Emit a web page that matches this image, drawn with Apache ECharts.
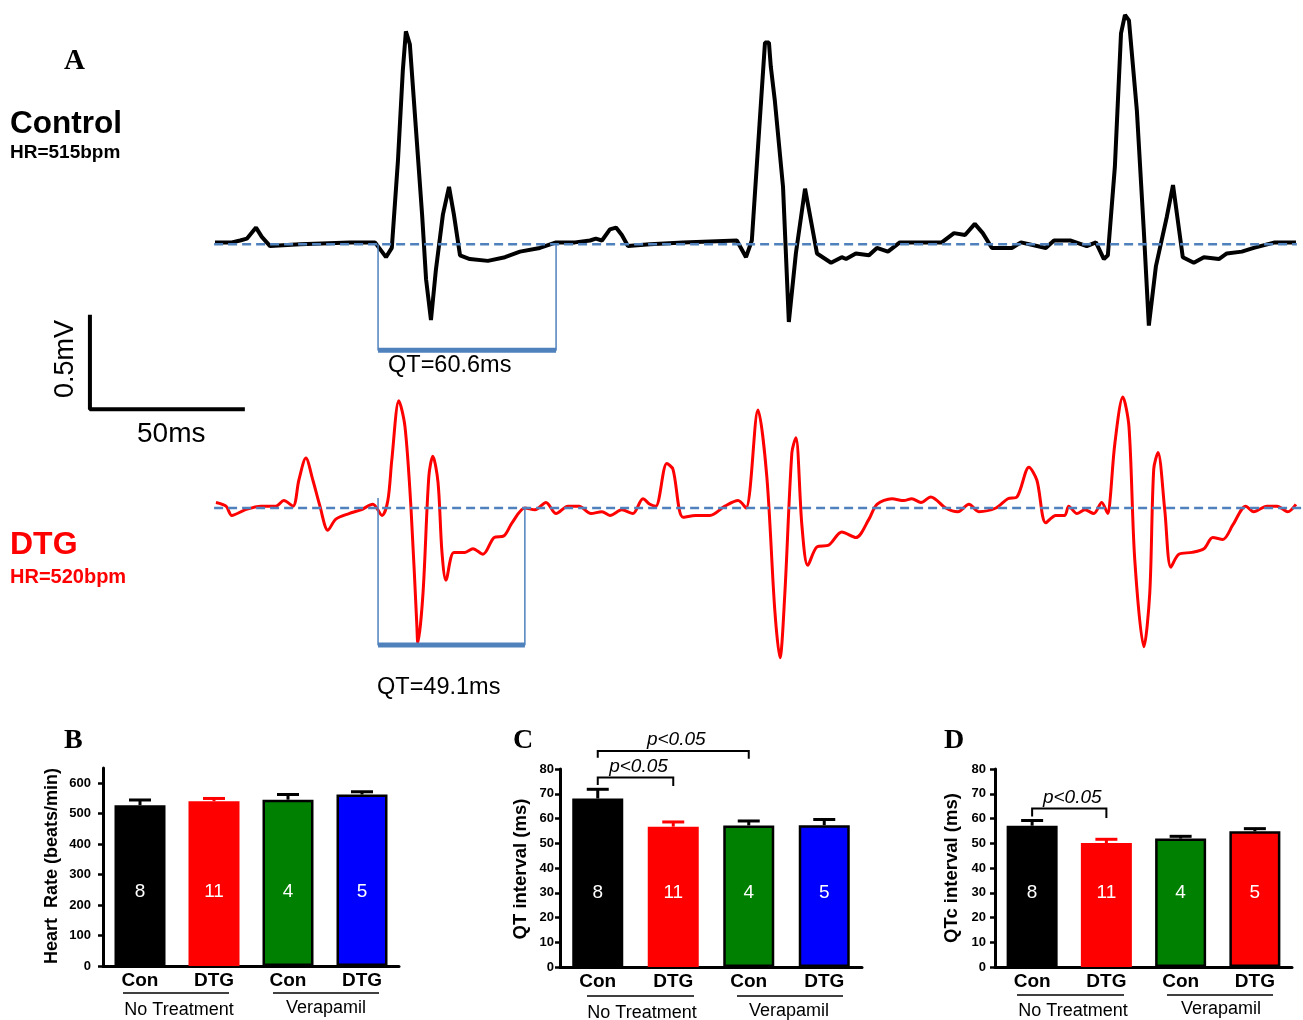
<!DOCTYPE html>
<html>
<head>
<meta charset="utf-8">
<script src="https://cdn.jsdelivr.net/npm/echarts@6/dist/echarts.min.js"></script>
<style>
  html, body { margin: 0; padding: 0; background: #fff; }
  #chart { width: 1303px; height: 1020px; }
</style>
</head>
<body>
<div id="chart"></div>
<script>
// ECG traces: [time ms, amplitude mV]
const ecgControl = [[0.3,0.01],[5.8,0.01],[8.5,0.02],[10.7,0.03],[13.7,0.09],[15.6,0.04],[18.3,-0.01],[28.1,0],[44.4,0.01],[52.6,0.01],[56.2,-0.07],[58.1,-0.02],[60.1,0.45],[61.7,0.94],[62.7,1.15],[64.0,1.08],[66.0,0.62],[68.0,0.16],[69.3,-0.19],[70.9,-0.41],[72.5,-0.14],[74.8,0.16],[76.8,0.31],[78.4,0.16],[80.4,-0.06],[83.6,-0.08],[89.5,-0.09],[95.1,-0.07],[100.0,-0.04],[106.5,-0.02],[111.8,0.01],[118.0,0.01],[122.9,0.02],[124.8,0.03],[126.8,0.02],[129.4,0.08],[131.4,0.09],[133.3,0.05],[135.3,-0.01],[142.5,0],[153.3,0.01],[170.9,0.02],[173.9,-0.07],[175.8,0.02],[178.4,0.67],[180.1,1.09],[181.4,1.09],[182.0,0.96],[183.3,0.78],[186.0,0.31],[187.9,-0.42],[190.2,-0.05],[193.2,0.30],[197.1,-0.05],[201.7,-0.10],[205.2,-0.07],[206.6,-0.08],[209.8,-0.05],[214.1,-0.06],[216.7,-0.02],[220.3,-0.04],[224.2,0.01],[231.1,0.01],[237.9,0.01],[241.9,0.06],[245.5,0.05],[248.7,0.11],[251.3,0.06],[254.3,-0.02],[260.8,-0.02],[263.8,0.01],[271.9,-0.02],[274.6,0.02],[280.1,0.02],[285.3,-0.01],[288.3,0.01],[290.9,-0.08],[292.2,-0.06],[294.5,0.42],[296.5,1.14],[297.8,1.24],[299.1,1.21],[301.7,0.72],[304.0,0.06],[305.6,-0.44],[307.9,-0.12],[311.5,0.15],[313.5,0.32],[316.7,-0.07],[320.3,-0.10],[323.6,-0.07],[328.5,-0.08],[331.1,-0.05],[336.0,-0.04],[339.9,-0.02],[346.8,0.01],[353.7,0.01]];

const ecgDtg = [[0.6,0.03],[3.9,0.01],[5.8,-0.04],[10.1,-0.01],[15.3,0.01],[20.2,0.01],[22.8,0.04],[25.8,0.01],[27.7,0.15],[30.0,0.27],[32.3,0.15],[34.6,0.01],[37.2,-0.12],[39.8,-0.06],[44.1,-0.03],[48.0,-0.01],[51.9,0.02],[54.9,-0.04],[56.8,0.04],[58.1,0.26],[60.4,0.58],[62.4,0.44],[64.4,-0.01],[66.3,-0.64],[66.6,-0.73],[68.3,-0.46],[70.2,0.17],[71.5,0.28],[73.2,0.14],[74.5,-0.24],[75.8,-0.39],[78.4,-0.24],[82.0,-0.24],[84.6,-0.22],[87.9,-0.25],[91.5,-0.16],[94.8,-0.15],[97.4,-0.08],[101.6,0],[104.9,-0.01],[108.5,0.03],[111.8,-0.03],[115.7,0.01],[119.3,0.01],[123.2,-0.03],[126.8,-0.02],[129.4,-0.04],[133.3,-0.01],[136.9,-0.03],[140.2,0.05],[142.5,0.02],[144.4,0.01],[148.0,0.24],[150.0,0.21],[153.3,-0.05],[157.5,-0.04],[162.1,-0.04],[167.0,0.01],[171.3,0.04],[173.9,0],[177.8,0.53],[180.7,0.17],[183.3,-0.55],[185.0,-0.81],[186.6,-0.46],[188.9,0.30],[190.2,0.38],[192.2,-0.10],[194.1,-0.31],[197.1,-0.21],[201.0,-0.20],[205.2,-0.13],[209.8,-0.16],[214.1,-0.06],[216.7,0.02],[221.6,0.05],[225.5,0.04],[228.1,0.05],[231.1,0.03],[234.3,0.06],[239.2,0],[243.2,-0.02],[246.8,0.02],[250.0,-0.02],[255.6,0],[259.5,0.05],[262.5,0.06],[266.4,0.22],[269.0,0.15],[271.9,-0.08],[275.2,-0.04],[278.1,-0.04],[279.4,0.01],[282.1,-0.03],[284.7,-0.01],[287.6,-0.03],[290.2,0.03],[292.2,-0.03],[292.9,0.04],[294.5,0.35],[297.1,0.60],[299.1,0.44],[301.0,-0.28],[304.0,-0.75],[305.9,-0.46],[307.2,0.21],[308.6,0.30],[310.8,-0.01],[312.8,-0.32],[315.4,-0.25],[319.7,-0.24],[323.6,-0.22],[326.5,-0.16],[329.8,-0.17],[333.1,-0.09],[337.3,0.01],[339.9,-0.02],[344.2,0.01],[347.5,0.01],[351.0,-0.02],[353.7,0.02]];

// QT brackets: [start ms, end ms, top mV, bottom mV]
const qtControl = [53.6, 111.8, 0, -0.573];
const qtDtg = [53.6, 101.6, 0.054, -0.741];
const baselineControl = [0, 354];
const baselineDtg = [0, 356];
// scale bar: 50 ms, 0.5 mV
const scaleBar = [[-40.6, -0.392], [-40.6, -0.892], [9.4, -0.892]];

// bar panels
const categories = ['Con', 'DTG', 'Con', 'DTG'];
const groupNames = ['No Treatment', 'Verapamil'];
const nCounts = ['8', '11', '4', '5'];

const hrMean = [528, 541, 546, 563];
const hrSem = [17, 9, 17, 9];
const hrTicks = [0, 100, 200, 300, 400, 500, 600];

const qtMean = [68.1, 56.7, 57.2, 57.3];
const qtSem = [3.7, 1.9, 1.8, 2.3];
const qtcMean = [57.1, 50.1, 51.9, 54.8];
const qtcSem = [2.1, 1.5, 0.9, 1.1];
const msTicks = [0, 10, 20, 30, 40, 50, 60, 70, 80];

// significance brackets: [cat1, cat2, top, leftEnd, rightEnd]
const qtSig = [[0, 1, 76.6, 73.5, 73.1], [0, 2, 87.3, 84.5, 84.1]];
const qtcSig = [[0, 1, 64.0, 60.8, 60.2]];

const BLUE = '#4f81bd';
const FONT = '"Liberation Sans", Arial, sans-serif';
const SERIF = '"Liberation Serif", "Times New Roman", serif';

const chart = echarts.init(document.getElementById('chart'));

function ecgAxisX(grid) {
  return { type: 'value', gridIndex: grid, min: -70, max: 356, show: false };
}
function barAxisX(grid) {
  return {
    type: 'category', gridIndex: grid, data: categories,
    axisLine: { lineStyle: { color: '#000', width: 3 } },
    axisTick: { alignWithLabel: true, length: 7, lineStyle: { color: '#000', width: 2.5 } },
    axisLabel: { color: '#000', fontWeight: 'bold', fontSize: 19, fontFamily: FONT, margin: 5 }
  };
}
function barAxisY(grid, max, ticks, margin) {
  return {
    type: 'value', gridIndex: grid, min: 0, max: max, interval: ticks[1] - ticks[0],
    splitLine: { show: false },
    axisLine: { show: true, lineStyle: { color: '#000', width: 3 } },
    axisTick: { show: true, length: 5, customValues: ticks, lineStyle: { color: '#000', width: 2.5 } },
    axisLabel: {
      color: '#000', fontWeight: 'bold', fontSize: 13, fontFamily: FONT, margin: margin,
      customValues: ticks,
      formatter: function (v) { return v > ticks[ticks.length - 1] ? '' : v; }
    }
  };
}

function barSeries(idx, means, fills, borders) {
  return {
    type: 'bar', xAxisIndex: idx, yAxisIndex: idx, barWidth: 51,
    data: means.map(function (m, i) {
      return {
        value: m,
        itemStyle: { color: fills[i], borderColor: borders[i] ? '#000' : fills[i], borderWidth: borders[i] ? 2.5 : 0 }
      };
    }),
    label: {
      show: true, position: 'insideBottom', distance: 65, color: '#fff',
      fontSize: 19, fontFamily: FONT,
      formatter: function (p) { return nCounts[p.dataIndex]; }
    },
    z: 2
  };
}

function errorSeries(idx, means, sems, colors) {
  return {
    type: 'custom', xAxisIndex: idx, yAxisIndex: idx, z: 3,
    data: means.map(function (m, i) { return [i, m, sems[i]]; }),
    renderItem: function (params, api) {
      const x = api.value(0), m = api.value(1), e = api.value(2);
      const b = api.coord([x, m]);
      const t = api.coord([x, m + e]);
      const st = { stroke: colors[params.dataIndex], lineWidth: 3 };
      return {
        type: 'group', children: [
          { type: 'line', shape: { x1: b[0], y1: b[1], x2: t[0], y2: t[1] }, style: st },
          { type: 'line', shape: { x1: t[0] - 11, y1: t[1], x2: t[0] + 11, y2: t[1] }, style: st }
        ]
      };
    }
  };
}

function sigSeries(idx, pairs) {
  return {
    type: 'custom', xAxisIndex: idx, yAxisIndex: idx, z: 4, clip: false,
    data: pairs,
    renderItem: function (params, api) {
      const a = api.coord([api.value(0), api.value(3)]);
      const at = api.coord([api.value(0), api.value(2)]);
      const bt = api.coord([api.value(1), api.value(2)]);
      const b = api.coord([api.value(1), api.value(4)]);
      return {
        type: 'group', children: [
          { type: 'polyline', shape: { points: [a, at, bt, b] }, style: { stroke: '#000', lineWidth: 2, fill: null } },
          {
            type: 'text', x: (at[0] + bt[0]) / 2 + 3, y: at[1] - 11,
            style: { text: 'p<0.05', font: 'italic 19px ' + FONT, fill: '#000', align: 'center', verticalAlign: 'middle' }
          }
        ]
      };
    }
  };
}

function lineSeries(idx, data, color, width, extra) {
  return Object.assign({
    type: 'line', xAxisIndex: idx, yAxisIndex: idx, data: data, showSymbol: false, symbol: 'none',
    lineStyle: { color: color, width: width }, animation: false, silent: true
  }, extra || {});
}

function txt(text, x, y, font, fill, extra) {
  return {
    type: 'text', x: x, y: y,
    style: Object.assign({ text: text, font: font, fill: fill || '#000', align: 'left', verticalAlign: 'middle' }, extra || {})
  };
}
function rtxt(text, x, y, font) {
  return { type: 'text', x: x, y: y, rotation: Math.PI / 2,
    style: { text: text, font: font, fill: '#000', align: 'center', verticalAlign: 'middle' } };
}
function hline(x1, x2, y) {
  return { type: 'line', shape: { x1: x1, y1: y, x2: x2, y2: y }, style: { stroke: '#000', lineWidth: 1.5 } };
}

const fillsBC = ['#000000', '#ff0000', '#008000', '#0000ff'];
const fillsD = ['#000000', '#ff0000', '#008000', '#ff0000'];
const bordersBC = [true, false, true, true];
const errColors = ['#000', '#ff0000', '#000', '#000'];
const dashed = { color: BLUE, width: 2.5, type: [9, 5] };

const option = {
  animation: false,
  grid: [
    { left: 0, top: 0, width: 1303, height: 420 },
    { left: 0, top: 380, width: 1303, height: 320 },
    { left: 103, top: 768, width: 296, height: 198 },
    { left: 560, top: 769, width: 302, height: 198 },
    { left: 995, top: 769, width: 297, height: 198 }
  ],
  xAxis: [ecgAxisX(0), ecgAxisX(1), barAxisX(2), barAxisX(3), barAxisX(4)],
  yAxis: [
    { type: 'value', gridIndex: 0, min: -0.95, max: 1.32, show: false },
    { type: 'value', gridIndex: 1, min: -1.038, max: 0.692, show: false },
    barAxisY(2, 650, hrTicks, 12),
    barAxisY(3, 80, msTicks, 6),
    barAxisY(4, 80, msTicks, 9)
  ],
  series: [
    lineSeries(0, ecgControl, '#000', 4, { z: 2 }),
    lineSeries(0, baselineControl.map(function (t) { return [t, 0]; }), BLUE, 2.5, { z: 3, lineStyle: dashed }),
    lineSeries(0, [[qtControl[0], qtControl[2]], [qtControl[0], qtControl[3]], [qtControl[1], qtControl[3]], [qtControl[1], qtControl[2]]], BLUE, 1.5),
    lineSeries(0, [[qtControl[0], qtControl[3]], [qtControl[1], qtControl[3]]], BLUE, 5),
    lineSeries(0, scaleBar, '#000', 4, { lineStyle: { color: '#000', width: 4, cap: 'square' } }),

    lineSeries(1, ecgDtg, '#ff0000', 3, { z: 2, smooth: 0.3 }),
    lineSeries(1, baselineDtg.map(function (t) { return [t, 0]; }), BLUE, 2.5, { z: 3, lineStyle: dashed }),
    lineSeries(1, [[qtDtg[0], qtDtg[2]], [qtDtg[0], qtDtg[3]], [qtDtg[1], qtDtg[3]], [qtDtg[1], 0]], BLUE, 1.5),
    lineSeries(1, [[qtDtg[0], qtDtg[3]], [qtDtg[1], qtDtg[3]]], BLUE, 5),

    barSeries(2, hrMean, fillsBC, bordersBC),
    errorSeries(2, hrMean, hrSem, errColors),
    barSeries(3, qtMean, fillsBC, bordersBC),
    errorSeries(3, qtMean, qtSem, errColors),
    sigSeries(3, qtSig),
    barSeries(4, qtcMean, fillsD, bordersBC),
    errorSeries(4, qtcMean, qtcSem, errColors),
    sigSeries(4, qtcSig)
  ],
  graphic: [
    txt('A', 64, 62, 'bold 29px ' + SERIF),
    txt('Control', 10, 124, 'bold 31.5px ' + FONT),
    txt('HR=515bpm', 10, 153, 'bold 19px ' + FONT),
    txt('DTG', 10, 545, 'bold 32px ' + FONT, '#ff0000'),
    txt('HR=520bpm', 10, 577, 'bold 20px ' + FONT, '#ff0000'),
    txt('QT=60.6ms', 388, 366, '23.5px ' + FONT),
    txt('QT=49.1ms', 377, 688, '23.5px ' + FONT),
    txt('50ms', 137, 434, '28px ' + FONT),
    { type: 'text', x: 66, y: 359, rotation: Math.PI / 2,
      style: { text: '0.5mV', font: '27px ' + FONT, fill: '#000', align: 'center', verticalAlign: 'middle' } },

    txt('B', 64, 741, 'bold 28px ' + SERIF),
    txt('C', 513, 741, 'bold 28px ' + SERIF),
    txt('D', 944, 741, 'bold 28px ' + SERIF),

    rtxt('Heart  Rate (beats/min)', 52, 866, 'bold 18px ' + FONT),
    rtxt('QT interval (ms)', 521, 869, 'bold 18.5px ' + FONT),
    rtxt('QTc interval (ms)', 952, 868, 'bold 18.5px ' + FONT),

    hline(123, 229, 993), hline(273, 379, 993),
    txt(groupNames[0], 179, 1010, '18px ' + FONT, '#000', { align: 'center' }),
    txt(groupNames[1], 326, 1008, '18px ' + FONT, '#000', { align: 'center' }),
    hline(587, 694, 996), hline(737, 843, 996),
    txt(groupNames[0], 642, 1013, '18px ' + FONT, '#000', { align: 'center' }),
    txt(groupNames[1], 789, 1011, '18px ' + FONT, '#000', { align: 'center' }),
    hline(1017, 1124, 995), hline(1167, 1273, 995),
    txt(groupNames[0], 1073, 1011, '18px ' + FONT, '#000', { align: 'center' }),
    txt(groupNames[1], 1221, 1009, '18px ' + FONT, '#000', { align: 'center' })
  ]
};

chart.setOption(option);

window.addEventListener('resize', function () {
  chart.resize();
});
</script>
</body>
</html>
